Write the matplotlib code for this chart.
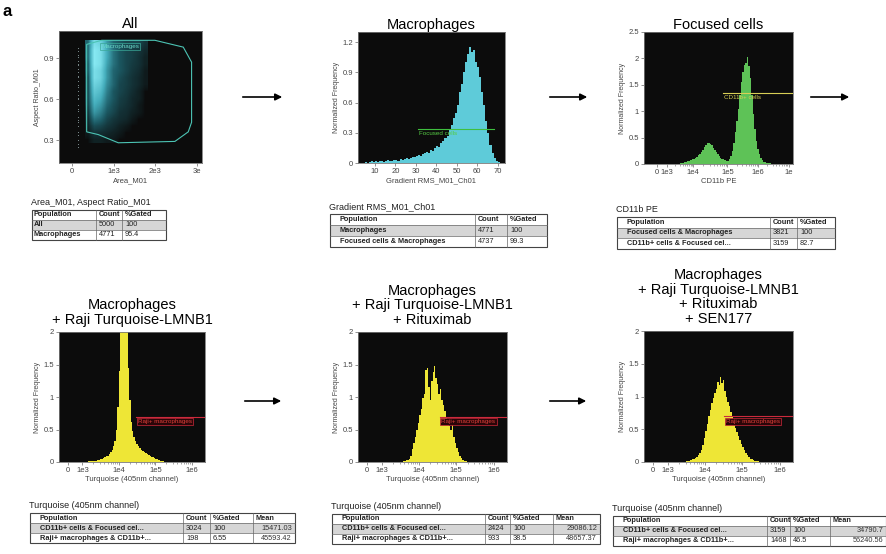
import numpy as np
import matplotlib.pyplot as plt
from matplotlib.colors import LinearSegmentedColormap, PowerNorm
from matplotlib.patches import Rectangle, Polygon

plt.rcParams['font.family'] = ['Liberation Sans', 'DejaVu Sans']

W, H = 886, 554

# ---------------- data ----------------
# panel "All": density of Area_M01 (columns) vs Aspect Ratio_M01 (rows, top -> bottom)
area_centers = [375, 525, 675, 825, 975, 1125, 1275, 1425, 1575, 1725]
ratio_centers = [1.00, 0.95, 0.90, 0.85, 0.80, 0.75, 0.70, 0.65, 0.60,
                 0.55, 0.50, 0.45, 0.40, 0.35, 0.30]
density = [
    [2.0, 9.0, 8.0, 4.0, 2.0, 1.5, 1.0, 1.0, 1.0, 0.5],
    [2.0, 10., 9.0, 5.0, 2.5, 1.5, 1.0, 0.8, 0.6, 0.3],
    [2.0, 10., 9.0, 5.0, 2.5, 1.5, 1.0, 0.8, 0.5, 0.2],
    [1.5, 10., 9.0, 4.5, 2.5, 1.5, 1.0, 0.7, 0.5, 0.2],
    [1.5, 9.0, 8.0, 4.0, 2.0, 1.5, 1.0, 0.6, 0.4, 0.1],
    [1.0, 9.0, 8.0, 4.0, 2.0, 1.2, 0.8, 0.5, 0.3, 0.1],
    [1.0, 8.0, 7.0, 3.5, 2.0, 1.0, 0.8, 0.5, 0.3, 0.1],
    [1.0, 7.0, 6.0, 3.0, 1.5, 1.0, 0.7, 0.4, 0.2, 0.0],
    [1.0, 6.0, 5.0, 2.5, 1.5, 0.8, 0.6, 0.3, 0.2, 0.0],
    [0.8, 5.0, 4.0, 2.0, 1.2, 0.7, 0.5, 0.3, 0.1, 0.0],
    [0.5, 4.0, 3.0, 1.5, 1.0, 0.5, 0.4, 0.2, 0.1, 0.0],
    [0.3, 2.5, 2.0, 1.0, 0.6, 0.4, 0.3, 0.1, 0.0, 0.0],
    [0.2, 1.2, 1.0, 0.6, 0.4, 0.2, 0.1, 0.0, 0.0, 0.0],
    [0.1, 0.5, 0.4, 0.3, 0.2, 0.1, 0.0, 0.0, 0.0, 0.0],
    [0.0, 0.2, 0.2, 0.1, 0.1, 0.0, 0.0, 0.0, 0.0, 0.0],
]
edge_area = 145
edge_ratio = [0.97, 0.95, 0.92, 0.91, 0.88, 0.86, 0.85, 0.82, 0.80, 0.77,
              0.76, 0.73, 0.70, 0.69, 0.66, 0.63, 0.61, 0.60, 0.56, 0.53,
              0.51, 0.47, 0.45, 0.43, 0.40, 0.36, 0.34, 0.30, 0.27, 0.25]
gate_area = [352, 712, 1990, 2670, 2870, 2870, 2790, 2470, 1110, 630, 352]
gate_ratio = [1.00, 1.03, 1.03, 0.98, 0.87, 0.43, 0.36, 0.29, 0.28, 0.34, 0.36]

# panel "Macrophages": Gradient RMS histogram, bins of 1 starting at 5
grad_start = 5
grad_freq = [0.01, 0.00, 0.01, 0.02, 0.01,
             0.02, 0.01, 0.02, 0.02, 0.01, 0.02, 0.03, 0.02, 0.02, 0.03,
             0.03, 0.02, 0.04, 0.03, 0.04, 0.05, 0.04, 0.05, 0.06, 0.06,
             0.07, 0.08, 0.07, 0.09, 0.10, 0.11, 0.10, 0.13, 0.12, 0.15,
             0.17, 0.16, 0.20, 0.22, 0.25, 0.27, 0.33, 0.38, 0.45, 0.50,
             0.58, 0.70, 0.78, 0.90, 1.00, 1.08, 1.15, 1.10, 1.12, 1.00,
             0.95, 0.85, 0.70, 0.58, 0.42, 0.30, 0.18, 0.10, 0.05, 0.02,
             0.01, 0.00]

# panel "Focused cells": CD11b PE histogram (display units 0-100), start 24
cd11b_start = 24
cd11b_freq = [0.01, 0.02, 0.02, 0.03, 0.04, 0.05, 0.06, 0.07, 0.09, 0.10,
              0.12, 0.14, 0.17, 0.19, 0.23, 0.27, 0.32, 0.36, 0.39, 0.40,
              0.37, 0.36, 0.31, 0.27, 0.22, 0.18, 0.15, 0.12, 0.10, 0.09,
              0.07, 0.06, 0.06, 0.09, 0.15, 0.25, 0.40, 0.60, 0.82, 1.05,
              1.30, 1.55, 1.75, 1.88, 1.92, 2.02, 1.85, 1.62, 1.30, 0.95,
              0.66, 0.44, 0.28, 0.18, 0.11, 0.07, 0.04, 0.03, 0.02, 0.01,
              0.01, 0.00]

# Turquoise histograms (display units 0-100)
turq1_start = 20
turq1_freq = [0.01, 0.02, 0.01, 0.01, 0.02, 0.02, 0.03, 0.03, 0.04, 0.05,
              0.06, 0.07, 0.09, 0.10, 0.12, 0.15, 0.18, 0.24, 0.33, 0.50,
              0.85, 1.40, 2.30, 2.60, 2.80, 2.50, 2.20, 1.45, 0.95, 0.62,
              0.48, 0.38, 0.32, 0.27, 0.24, 0.21, 0.19, 0.17, 0.15, 0.14,
              0.12, 0.11, 0.10, 0.08, 0.07, 0.06, 0.05, 0.04, 0.03, 0.02,
              0.01, 0.01]
turq2_start = 30
turq2_freq = [0.02, 0.02, 0.03, 0.03, 0.05, 0.10, 0.20, 0.30, 0.38, 0.50,
              0.60, 0.72, 0.82, 0.98, 1.05, 1.42, 1.45, 1.15, 0.95, 1.25,
              1.38, 1.48, 1.30, 1.20, 1.05, 1.12, 0.95, 0.88, 0.78, 0.70,
              0.62, 0.55, 0.50, 0.62, 0.38, 0.30, 0.22, 0.15, 0.10, 0.06,
              0.03, 0.02, 0.01]
turq3_start = 28
turq3_freq = [0.01, 0.02, 0.02, 0.03, 0.04, 0.05, 0.06, 0.08, 0.10, 0.14,
              0.18, 0.26, 0.36, 0.48, 0.58, 0.70, 0.80, 0.90, 0.98, 1.05,
              1.12, 1.22, 1.18, 1.30, 1.20, 1.25, 1.08, 1.00, 0.92, 0.85,
              0.76, 0.68, 0.60, 0.52, 0.46, 0.40, 0.34, 0.28, 0.23, 0.18,
              0.14, 0.10, 0.07, 0.05, 0.04, 0.03, 0.02, 0.01, 0.01]

# tables
t1_title = "Area_M01, Aspect Ratio_M01"
t1_header = ["Population", "Count", "%Gated"]
t1_rows = [["All", "5000", "100"], ["Macrophages", "4771", "95.4"]]
t2_title = "Gradient RMS_M01_Ch01"
t2_header = ["Population", "Count", "%Gated"]
t2_rows = [["Macrophages", "4771", "100"],
           ["Focused cells & Macrophages", "4737", "99.3"]]
t3_title = "CD11b PE"
t3_header = ["Population", "Count", "%Gated"]
t3_rows = [["Focused cells & Macrophages", "3821", "100"],
           ["CD11b+ cells & Focused cel...", "3159", "82.7"]]
turq_title = "Turquoise (405nm channel)"
turq_header = ["Population", "Count", "%Gated", "Mean"]
t4_rows = [["CD11b+ cells & Focused cel...", "3024", "100", "15471.03"],
           ["Raji+ macrophages & CD11b+...", "198", "6.55", "45593.42"]]
t5_rows = [["CD11b+ cells & Focused cel...", "2424", "100", "29086.12"],
           ["Raji+ macrophages & CD11b+...", "933", "38.5", "48657.37"]]
t6_rows = [["CD11b+ cells & Focused cel...", "3159", "100", "34790.7"],
           ["Raji+ macrophages & CD11b+...", "1468", "46.5", "56240.56"]]

# ---------------- drawing ----------------
BG = '#0c0c0c'
CYAN = '#5ecbd9'
GREEN = '#5ec257'
YELLOW = '#eee636'
RED = '#cc2a3c'

fig = plt.figure(figsize=(W / 100, H / 100), dpi=100)
ov = fig.add_axes([0, 0, 1, 1])
ov.set_xlim(0, W)
ov.set_ylim(H, 0)
ov.axis('off')


def px_axes(x0, y0, x1, y1):
    ax = fig.add_axes([x0 / W, 1 - y1 / H, (x1 - x0) / W, (y1 - y0) / H])
    ax.set_facecolor(BG)
    for s in ax.spines.values():
        s.set_color('#777777')
        s.set_linewidth(0.6)
    ax.tick_params(labelsize=5.5, length=2, width=0.5, pad=1.5,
                   colors='#666666', labelcolor='#444444')
    return ax


def hist(ax, start, freq, color):
    edges = np.arange(start, start + len(freq) + 1)
    ax.stairs(freq, edges, fill=True, color=color, linewidth=0)


def logicle_ticks(ax, pos, labels):
    ax.set_xticks(pos)
    ax.set_xticklabels(labels)
    minor = []
    for a, b in zip(pos[1:-1], pos[2:]):
        minor += [a + (b - a) * np.log10(k) for k in range(2, 10)]
    ax.set_xticks(minor, minor=True)
    ax.tick_params(axis='x', which='minor', length=1.2, width=0.4, colors='#666666')


def gate(ax, x0, y, label, color, text_color, box=False):
    ax.plot([x0, 100], [y, y], color=color, lw=0.8)
    kw = {}
    if box:
        kw['bbox'] = dict(boxstyle='square,pad=0.2', fc='#2a0508', ec=color, lw=0.5)
    ax.text(x0 + 1, y - 0.04, label, color=text_color, fontsize=4.5, va='top', **kw)


def ylab(ax, text):
    ax.set_ylabel(text, fontsize=5, color='#444444', labelpad=2)


def xlab(ax, text):
    ax.set_xlabel(text, fontsize=5.5, color='#444444', labelpad=1.5)


# panel 1: All
ax1 = px_axes(59, 31, 202, 163)
cmap = LinearSegmentedColormap.from_list('cy', [BG, '#1c5a64', '#45aebd', '#86e8f2'])
ax1.imshow(np.array(density), extent=[300, 1800, 0.275, 1.025], origin='upper',
           aspect='auto', cmap=cmap, interpolation='bilinear',
           norm=PowerNorm(gamma=0.6, vmin=0, vmax=10))
ax1.scatter([edge_area] * len(edge_ratio), edge_ratio, s=0.6, color='#8a9a9c', lw=0)
ax1.add_patch(Polygon(list(zip(gate_area, gate_ratio)), closed=True, fill=False,
                      ec='#4cc4b4', lw=0.8))
ax1.text(700, 0.985, "Macrophages", fontsize=4.5, color='#6ad8c8', va='center',
         bbox=dict(boxstyle='square,pad=0.15', fc='none', ec='#3aa898', lw=0.5))
ax1.set_xlim(-312, 3120)
ax1.set_ylim(0.132, 1.098)
ax1.set_xticks([0, 1000, 2000, 3000])
ax1.set_xticklabels(["0", "1e3", "2e3", "3e"])
ax1.set_yticks([0.3, 0.6, 0.9])
xlab(ax1, "Area_M01")
ylab(ax1, "Aspect Ratio_M01")
ax1.set_title("All", fontsize=10.5, pad=2)

# panel 2: Macrophages
ax2 = px_axes(358, 32, 505, 163)
hist(ax2, grad_start, grad_freq, CYAN)
ax2.plot([31, 68.3], [0.335, 0.335], color='#3fbf3f', lw=0.8)
ax2.text(31.5, 0.32, "Focused cells", color='#55cc44', fontsize=4.5, va='top')
ax2.set_xlim(1.7, 73.6)
ax2.set_ylim(0, 1.3)
ax2.set_xticks([10, 20, 30, 40, 50, 60, 70])
ax2.set_yticks([0, 0.3, 0.6, 0.9, 1.2])
ax2.set_yticklabels(["0", "0.3", "0.6", "0.9", "1.2"])
xlab(ax2, "Gradient RMS_M01_Ch01")
ylab(ax2, "Normalized Frequency")
ax2.set_title("Macrophages", fontsize=10.5, pad=2)

# panel 3: Focused cells
ax3 = px_axes(644, 32, 793, 164)
hist(ax3, cd11b_start, cd11b_freq, GREEN)
gate(ax3, 52.7, 1.35, "CD11b+ cells", '#d8cf55', '#d8cf55')
ax3.set_xlim(0, 100)
ax3.set_ylim(0, 2.5)
logicle_ticks(ax3, [8.5, 15.5, 33, 56, 76.5, 97], ["0", "1e3", "1e4", "1e5", "1e6", "1e"])
ax3.set_yticks([0, 0.5, 1, 1.5, 2, 2.5])
ax3.set_yticklabels(["0", "0.5", "1", "1.5", "2", "2.5"])
xlab(ax3, "CD11b PE")
ylab(ax3, "Normalized Frequency")
ax3.set_title("Focused cells", fontsize=10.5, pad=2)

# bottom row
bottom = [
    ((59, 332, 205, 462), turq1_start, turq1_freq, 53,
     "Macrophages\n+ Raji Turquoise-LMNB1"),
    ((358, 332, 507, 462), turq2_start, turq2_freq, 55,
     "Macrophages\n+ Raji Turquoise-LMNB1\n+ Rituximab"),
    ((644, 331, 793, 462), turq3_start, turq3_freq, 54,
     "Macrophages\n+ Raji Turquoise-LMNB1\n+ Rituximab\n+ SEN177"),
]
for box, start, freq, gx, title in bottom:
    ax = px_axes(*box)
    hist(ax, start, freq, YELLOW)
    gate(ax, gx, 0.70, "Raji+ macrophages", RED, '#e0403a', box=True)
    ax.set_xlim(0, 100)
    ax.set_ylim(0, 2)
    logicle_ticks(ax, [6, 16, 41, 66, 91], ["0", "1e3", "1e4", "1e5", "1e6"])
    ax.set_yticks([0, 0.5, 1, 1.5, 2])
    ax.set_yticklabels(["0", "0.5", "1", "1.5", "2"])
    xlab(ax, "Turquoise (405nm channel)")
    ylab(ax, "Normalized Frequency")
    ax.set_title(title, fontsize=10.5, pad=6, linespacing=1.05)


# tables
def table(x_edges, y0, row_h, title, header, rows, pad, right_last=False):
    ov.text(x_edges[0] - 1, y0 - 3, title, fontsize=6.5, color='#222222', va='bottom')
    n = len(rows) + 1
    y1 = y0 + n * row_h
    ov.add_patch(Rectangle((x_edges[0], y0 + row_h), x_edges[-1] - x_edges[0], row_h,
                           fc='#d6d6d6', ec='none'))
    ov.add_patch(Rectangle((x_edges[0], y0), x_edges[-1] - x_edges[0], n * row_h,
                           fc='none', ec='#444444', lw=0.8))
    for i in range(1, n):
        ov.plot([x_edges[0], x_edges[-1]], [y0 + i * row_h] * 2, color='#666666', lw=0.5)
    for x in x_edges[1:-1]:
        ov.plot([x, x], [y0, y1], color='#666666', lw=0.5)
    for r, row in enumerate([header] + rows):
        yc = y0 + (r + 0.5) * row_h
        for c, val in enumerate(row):
            bold = (r == 0) or (c == 0)
            if c == 0:
                ov.text(x_edges[0] + pad, yc, val, fontsize=5.3, va='center',
                        weight='bold' if bold else 'normal', color='#222222')
            elif right_last and c == len(row) - 1 and r > 0:
                ov.text(x_edges[c + 1] - 3, yc, val, fontsize=5.3, va='center',
                        ha='right', color='#333333')
            else:
                ov.text(x_edges[c] + 3, yc, val, fontsize=5.3, va='center',
                        weight='bold' if bold else 'normal', color='#222222')


table([32, 96, 122, 166], 210, 10, t1_title, t1_header, t1_rows, 2)
table([330, 475, 507, 547], 214, 11, t2_title, t2_header, t2_rows, 10)
table([617, 770, 797, 835], 217, 10.5, t3_title, t3_header, t3_rows, 10)
table([30, 183, 210, 253, 295], 513, 10, turq_title, turq_header, t4_rows, 10, True)
table([332, 485, 510, 553, 600], 514, 10, turq_title, turq_header, t5_rows, 10, True)
table([613, 767, 790, 830, 886], 516, 10, turq_title, turq_header, t6_rows, 10, True)

# arrows
for (xa, xb, y) in [(240, 285, 97), (547, 590, 97), (808, 852, 97),
                    (242, 284, 401), (547, 589, 401)]:
    ov.annotate('', xy=(xb, y), xytext=(xa, y),
                arrowprops=dict(arrowstyle='-|>', color='black', lw=1.2,
                                mutation_scale=10))

ov.text(3, 11, "a", fontsize=12, weight='bold', va='center')

fig.savefig("out.png", dpi=100, facecolor='white')
